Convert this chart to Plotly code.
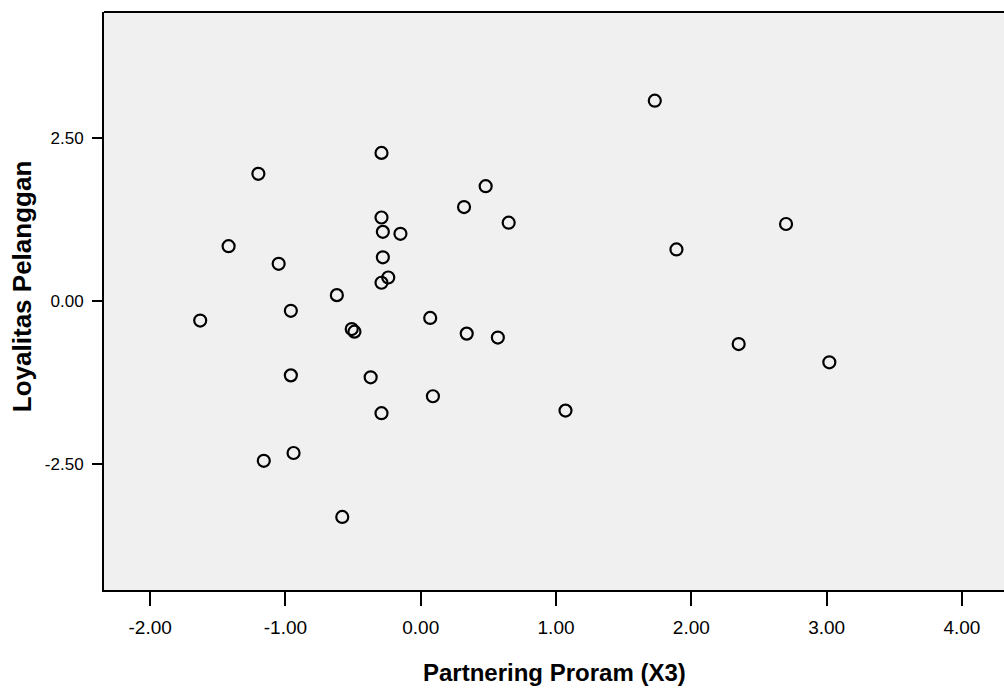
import plotly.graph_objects as go

# Data
partnering_x3 = [1.73, -0.29, -1.20, 0.48, 0.32, -0.29, 0.65, 2.70, -0.28, -0.15,
                 -1.42, 1.89, -1.05, -0.28, -0.24, -0.29, -0.62, -1.63, -0.96, -0.51,
                 -0.49, 0.07, 0.34, 0.57, 2.35, 3.02, -0.96, -0.37, 0.09, -0.29,
                 1.07, -1.16, -0.94, -0.58]
loyalitas = [3.07, 2.27, 1.95, 1.76, 1.44, 1.28, 1.20, 1.18, 1.06, 1.03,
             0.84, 0.79, 0.57, 0.67, 0.36, 0.28, 0.09, -0.30, -0.15, -0.43,
             -0.47, -0.26, -0.50, -0.56, -0.66, -0.94, -1.14, -1.17, -1.46, -1.72,
             -1.68, -2.45, -2.33, -3.31]

x_ticks = [-2, -1, 0, 1, 2, 3, 4]
x_tick_labels = ["-2.00", "-1.00", "0.00", "1.00", "2.00", "3.00", "4.00"]
y_ticks = [-2.5, 0, 2.5]
y_tick_labels = ["-2.50", "0.00", "2.50"]
x_title = "Partnering Proram (X3)"
y_title = "Loyalitas Pelanggan"

fig = go.Figure()
fig.add_trace(go.Scatter(
    x=partnering_x3, y=loyalitas, mode="markers",
    marker=dict(symbol="circle-open", size=12, color="black",
                line=dict(width=2.2, color="black")),
    showlegend=False, hoverinfo="x+y"))

fig.update_layout(
    width=1004, height=688, autosize=False,
    margin=dict(l=104, r=0, t=12, b=98),
    paper_bgcolor="white", plot_bgcolor="#F0F0F0",
    font=dict(family="Liberation Sans, Arial, sans-serif", color="black"),
    xaxis=dict(
        range=[-2.341, 4.311], tickvals=x_ticks, ticktext=x_tick_labels,
        showgrid=False, zeroline=False, showline=True, linecolor="black", linewidth=2,
        ticks="outside", ticklen=14, tickwidth=2, tickcolor="black",
        ticklabelstandoff=5,
        tickfont=dict(size=19, family="Liberation Sans Narrow, Arial Narrow, Liberation Sans, sans-serif"),
        fixedrange=True),
    yaxis=dict(
        range=[-4.43, 4.43], tickvals=y_ticks, ticktext=y_tick_labels,
        showgrid=False, zeroline=False, showline=True, linecolor="black", linewidth=2,
        ticks="outside", ticklen=10, tickwidth=2, tickcolor="black",
        ticklabelstandoff=5,
        tickfont=dict(size=17),
        fixedrange=True),
    shapes=[dict(type="line", xref="paper", yref="paper", x0=0, x1=1, y0=1, y1=1,
                 line=dict(color="black", width=2))],
    annotations=[
        dict(text="<b>" + x_title + "</b>", xref="paper", yref="paper",
             x=0.501, y=-0.142, xanchor="center", yanchor="middle", showarrow=False,
             font=dict(size=24, family="Liberation Sans Narrow, Liberation Sans, Arial, sans-serif")),
        dict(text="<b>" + y_title + "</b>", xref="paper", yref="paper",
             x=-0.0911, y=0.524, xanchor="center", yanchor="middle", showarrow=False,
             textangle=-90, font=dict(size=26)),
    ],
)

fig.write_html(
    "out.html",
    config={"displayModeBar": False},
    post_script="document.body.style.margin='0';"
                "Plotly.relayout('{plot_id}', {width: 1004, height: 688});",
)
